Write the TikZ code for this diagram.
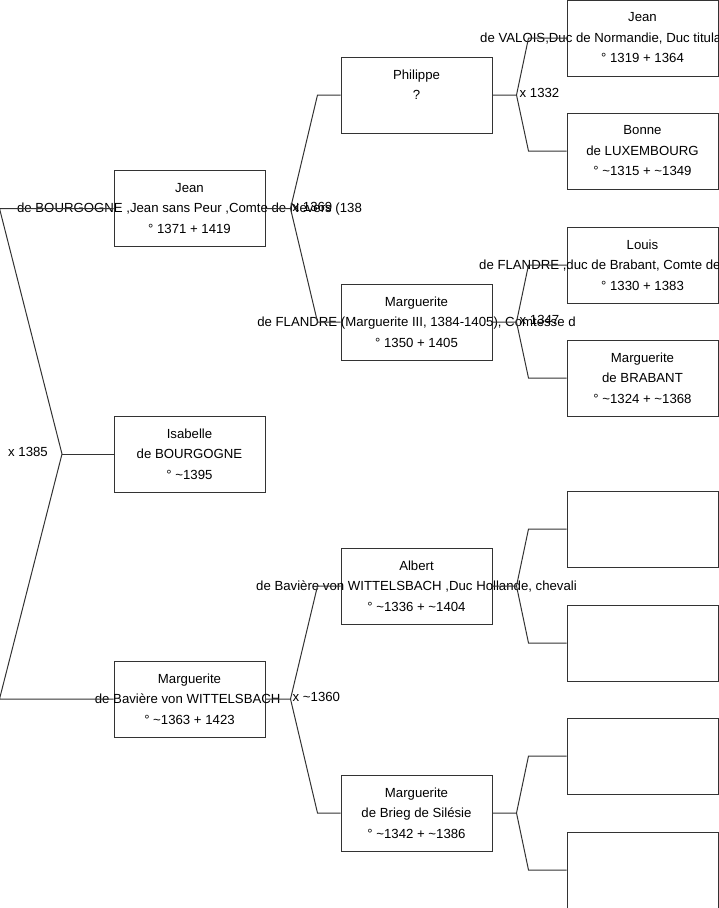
\documentclass[tikz,border=0pt]{standalone}
\usepackage{fontspec}
\setmainfont{Liberation Sans}
\usetikzlibrary{positioning}
\newcommand{\abt}{\textasciitilde}
\tikzset{
  person/.style={draw=black!80, line width=1pt, minimum width=151pt, minimum height=76pt, inner sep=0pt},
  persontext/.style={align=center, inner sep=0pt, font=\fontsize{13.2}{20.5}\selectfont},
  overflow/.style={anchor=base west, inner sep=0pt, font=\fontsize{13.2}{20.5}\selectfont},
  wed/.style={anchor=west, inner sep=0pt, yshift=2pt, font=\fontsize{13.2}{15}\selectfont},
  link/.style={draw=black!80, line width=1pt}
}
\begin{document}
\begin{tikzpicture}[x=1pt, y=-1pt]
\useasboundingbox (0,0) rectangle (719,908);
\node[person, label={[persontext]center:{Jean\\de BOURGOGNE ,Jean sans Peur ,Comte de Nevers (138\\° 1371 + 1419}}] (jean) at (189.5,208.5) {};
\node[person, label={[persontext]center:{Isabelle\\de BOURGOGNE\\° \abt1395}}] (isabelle) at (189.5,454) {};
\node[person, label={[persontext]center:{Marguerite\\de Bavière von WITTELSBACH\hbox{\ }\\° \abt1363 + 1423}}] (marguerite) at (189.5,699) {};

\node[person, label={[persontext]center:{Philippe\\?\\\phantom{0}}}] (philippe) at (416.5,95) {};
\node[person, label={[persontext]center:{Marguerite\\de FLANDRE (Marguerite III, 1384-1405), Comtesse d\\° 1350 + 1405}}] (mflandre) at (416.5,322) {};
\node[person, label={[persontext]center:{Albert\\de Bavière von WITTELSBACH ,Duc Hollande, chevali\\° \abt1336 + \abt1404}}] (albert) at (416.5,586) {};
\node[person, label={[persontext]center:{Marguerite\\de Brieg de Silésie\\° \abt1342 + \abt1386}}] (mbrieg) at (416.5,813) {};

\node[person, label={[persontext]center:{Jean\\\phantom{0}\\° 1319 + 1364}}] (jvalois) at (642.5,38) {};
\node[overflow] (jvaloistitle) at (480,42.3) {de VALOIS,Duc de Normandie, Duc titula};
\node[person, label={[persontext]center:{Bonne\\de LUXEMBOURG\\° \abt1315 + \abt1349}}] (bonne) at (642.5,151) {};
\node[person, label={[persontext]center:{Louis\\\phantom{0}\\° 1330 + 1383}}] (louis) at (642.5,265) {};
\node[overflow] (louistitle) at (479,269.3) {de FLANDRE ,duc de Brabant, Comte de};
\node[person, label={[persontext]center:{Marguerite\\de BRABANT\\° \abt1324 + \abt1368}}] (mbrabant) at (642.5,378) {};
\node[person] (albertch1) at (642.5,529) {};
\node[person] (albertch2) at (642.5,643) {};
\node[person] (mbriegch1) at (642.5,756) {};
\node[person] (mbriegch2) at (642.5,870) {};

\coordinate (froot) at (62,454);
\coordinate[right=25pt of jean.east] (fjean);
\coordinate[right=25pt of marguerite.east] (fmarguerite);
\coordinate[right=24pt of philippe.east] (fphilippe);
\coordinate[right=24pt of mflandre.east] (fmflandre);
\coordinate[right=24pt of albert.east] (falbert);
\coordinate[right=24pt of mbrieg.east] (fmbrieg);

\draw[link] (jean) -- ([xshift=-114pt]jean.west) -- (froot) -- ([xshift=-114pt]marguerite.west) -- (marguerite);
\draw[link] (froot) -- (isabelle);
\draw[link] (jean) -- (fjean) -- ([xshift=-23pt]philippe.west) -- (philippe);
\draw[link] (fjean) -- ([xshift=-23pt]mflandre.west) -- (mflandre);
\draw[link] (marguerite) -- (fmarguerite) -- ([xshift=-23pt]albert.west) -- (albert);
\draw[link] (fmarguerite) -- ([xshift=-23pt]mbrieg.west) -- (mbrieg);
\draw[link] (philippe) -- (fphilippe) -- ([xshift=-38pt]jvalois.west) -- (jvalois);
\draw[link] (fphilippe) -- ([xshift=-38pt]bonne.west) -- (bonne);
\draw[link] (mflandre) -- (fmflandre) -- ([xshift=-38pt]louis.west) -- (louis);
\draw[link] (fmflandre) -- ([xshift=-38pt]mbrabant.west) -- (mbrabant);
\draw[link] (albert) -- (falbert) -- ([xshift=-38pt]albertch1.west) -- (albertch1);
\draw[link] (falbert) -- ([xshift=-38pt]albertch2.west) -- (albertch2);
\draw[link] (mbrieg) -- (fmbrieg) -- ([xshift=-38pt]mbriegch1.west) -- (mbriegch1);
\draw[link] (fmbrieg) -- ([xshift=-38pt]mbriegch2.west) -- (mbriegch2);

\node[wed] (wroot) at (8,454) {x 1385};
\node[wed, right=2pt of fjean] (wjean) {x 1369};
\node[wed, right=2pt of fmarguerite] (wmarguerite) {x \abt1360};
\node[wed, right=3pt of fphilippe] (wphilippe) {x 1332};
\node[wed, right=3pt of fmflandre] (wmflandre) {x 1347};
\end{tikzpicture}
\end{document}
